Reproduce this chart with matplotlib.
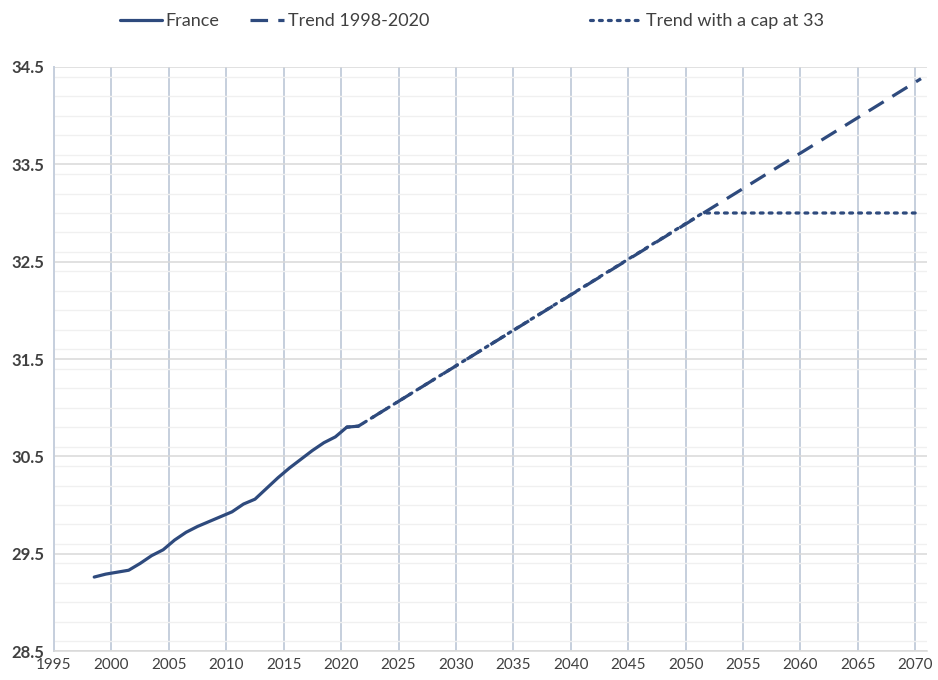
import numpy as np
import matplotlib
matplotlib.use('Agg')
import matplotlib.pyplot as plt
from matplotlib.ticker import MultipleLocator

plt.rcParams['font.family'] = ['Lato', 'DejaVu Sans']

# France series
france_years = np.arange(1998, 2021)
france_vals = [29.26, 29.29, 29.31, 29.33, 29.40, 29.48, 29.54, 29.64, 29.72, 29.78,
               29.83, 29.88, 29.93, 30.01, 30.06, 30.17, 30.28, 30.38, 30.47, 30.56,
               30.64, 30.70, 30.80]

# linear trend 1998-2020 (straight line, so end points are enough)
trend_years = [2020, 2021, 2070]
trend_vals = [30.80, 30.81, 34.38]

# trend with a cap at 33
cap_years = [2020, 2021, 2051, 2070]
cap_vals = [30.80, 30.81, 33.0, 33.0]

col = '#2E4A7D'
txt = '#404040'

fig = plt.figure(figsize=(9.38, 6.8), dpi=100)
ax = fig.add_axes([0.0576, 0.0426, 0.9304, 0.8589])

# data sit in the middle of each year's category
l1, = ax.plot(france_years + 0.5, france_vals, color=col, lw=2.3,
              solid_capstyle='round', solid_joinstyle='round', label='France', zorder=4)
l2, = ax.plot(np.array(trend_years) + 0.5, trend_vals, color=col, lw=2.3,
              dashes=(5.5, 3.2), label='Trend 1998-2020', zorder=3)
l3, = ax.plot(np.array(cap_years) + 0.5, cap_vals, color=col, lw=2.3,
              dashes=(0.9, 1.9), dash_capstyle='round', label='Trend with a cap at 33', zorder=3)

ax.set_xlim(1995, 2071)
ax.set_ylim(28.5, 34.5)
ax.xaxis.set_major_locator(MultipleLocator(5))
ax.yaxis.set_minor_locator(MultipleLocator(0.2))
ax.set_yticks(np.arange(28.5, 34.51, 1.0))
ax.set_yticklabels(['%.1f' % v for v in np.arange(28.5, 34.51, 1.0)])

ax.grid(axis='x', which='major', color='#C6CFDD', lw=1.4)
ax.grid(axis='y', which='major', color='#D9D9D9', lw=1.1)
ax.grid(axis='y', which='minor', color='#F0F0F0', lw=1.0)
ax.set_axisbelow(True)

for s in ['top', 'right']:
    ax.spines[s].set_visible(False)
ax.spines['left'].set_color('#C6CFDD')
ax.spines['left'].set_linewidth(1.4)
ax.spines['bottom'].set_color('#D9D9D9')
ax.spines['bottom'].set_linewidth(1.1)

ax.tick_params(which='both', length=0, colors=txt, labelsize=11)
ax.tick_params(axis='x', pad=5)
ax.tick_params(axis='y', pad=7, labelsize=12)
for lab in ax.get_yticklabels():
    lab.set_fontweight('bold')

# three legend entries, placed separately like the original
legend_items = [(l1, 'France', 0.128, 2.3), (l2, 'Trend 1998-2020', 0.2665, 1.9),
                (l3, 'Trend with a cap at 33', 0.629, 2.9)]
for h, name, xpos, hl in legend_items:
    lg = fig.legend([h], [name], loc='center left', bbox_to_anchor=(xpos, 0.969),
                    frameon=False, fontsize=13, handlelength=hl, handletextpad=0.2,
                    labelcolor=txt, borderaxespad=0, borderpad=0)

fig.savefig('out.png', dpi=100)
